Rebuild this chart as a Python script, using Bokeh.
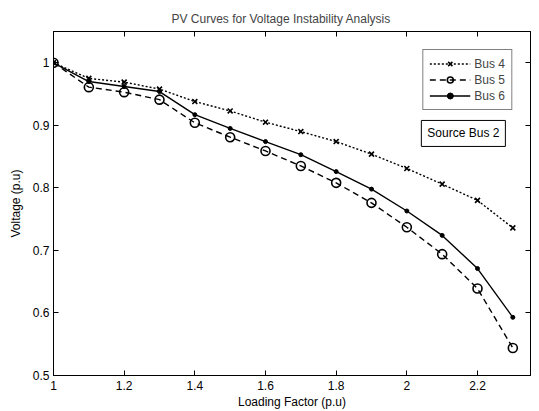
from bokeh.plotting import figure
from bokeh.models import (Range1d, LinearAxis, FixedTicker, CustomJSTickFormatter,
                          Legend, LegendItem, Label)
from bokeh.embed import file_html
from bokeh.resources import INLINE

# ---- data ----
loading = [1.0, 1.1, 1.2, 1.3, 1.4, 1.5, 1.6, 1.7, 1.8, 1.9, 2.0, 2.1, 2.2, 2.3]
bus4 = [1.000, 0.975, 0.969, 0.958, 0.938, 0.923, 0.905, 0.890, 0.874, 0.854, 0.831, 0.806, 0.780, 0.736]
bus5 = [1.000, 0.961, 0.953, 0.941, 0.904, 0.881, 0.859, 0.835, 0.808, 0.776, 0.737, 0.694, 0.639, 0.544]
bus6 = [1.000, 0.970, 0.962, 0.954, 0.917, 0.895, 0.874, 0.853, 0.826, 0.798, 0.763, 0.724, 0.671, 0.593]
series_names = ["Bus 4", "Bus 5", "Bus 6"]
x_ticks = [1.0, 1.2, 1.4, 1.6, 1.8, 2.0, 2.2]
y_ticks = [0.5, 0.6, 0.7, 0.8, 0.9, 1.0]
title_text = "PV Curves for Voltage Instability Analysis"
x_label = "Loading Factor (p.u)"
y_label = "Voltage (p.u)"
note_text = "Source Bus 2"

FONT = "Liberation Sans"
FS = "12px"

p = figure(width=539, height=411, output_backend="svg", toolbar_location=None,
           x_range=Range1d(1.0, 2.35), y_range=Range1d(0.5, 1.05),
           min_border_left=53, min_border_right=9, min_border_top=31, min_border_bottom=36)
p.xgrid.visible = False
p.ygrid.visible = False
p.outline_line_color = "black"
p.outline_line_width = 1
p.background_fill_color = "white"
p.border_fill_color = "white"

p.title.text = title_text
p.title.text_font = FONT
p.title.text_font_size = FS
p.title.text_font_style = "normal"
p.title.align = "left"
p.title.offset = 118
p.title.standoff = 11

fmt = CustomJSTickFormatter(code="return String(Math.round(tick*10)/10);")
blank = CustomJSTickFormatter(code="return '';")

def style_axis(ax, ticks, show_labels):
    ax.ticker = FixedTicker(ticks=ticks)
    ax.formatter = fmt if show_labels else blank
    ax.major_tick_in = 5
    ax.major_tick_out = 0
    ax.minor_tick_in = 0
    ax.minor_tick_out = 0
    ax.axis_line_color = "black"
    ax.major_tick_line_color = "black"
    ax.major_label_text_font = FONT
    ax.major_label_text_font_size = FS
    ax.major_label_text_color = "black"
    ax.axis_label_text_font = FONT
    ax.axis_label_text_font_size = FS
    ax.axis_label_text_font_style = "normal"
    ax.axis_label_text_color = "black"

style_axis(p.xaxis[0], x_ticks, True)
style_axis(p.yaxis[0], y_ticks, True)
p.xaxis[0].axis_label = x_label
p.yaxis[0].axis_label = y_label
p.xaxis[0].major_label_standoff = 5
p.xaxis[0].axis_label_standoff = 2
p.yaxis[0].major_label_standoff = 4
p.yaxis[0].axis_label_standoff = 7

top_ax = LinearAxis()
style_axis(top_ax, x_ticks, False)
top_ax.major_label_standoff = 0
right_ax = LinearAxis()
style_axis(right_ax, y_ticks, False)
right_ax.major_label_standoff = 0
p.add_layout(top_ax, "above")
p.add_layout(right_ax, "right")

LW = 1.4
l4 = p.line(loading, bus4, line_color="black", line_width=LW, line_dash="2 2")
m4 = p.scatter(loading, bus4, marker="x", size=7, line_color="black", line_width=1.6)
l5 = p.line(loading, bus5, line_color="black", line_width=LW, line_dash="6 4")
m5 = p.scatter(loading, bus5, marker="circle", size=9, line_color="black", line_width=1.6,
               fill_color=None)
l6 = p.line(loading, bus6, line_color="black", line_width=LW)
m6 = p.scatter(loading, bus6, marker="circle", size=4, line_color="black", fill_color="black")

legend = Legend(items=[LegendItem(label=series_names[0], renderers=[l4, m4]),
                       LegendItem(label=series_names[1], renderers=[l5, m5]),
                       LegendItem(label=series_names[2], renderers=[l6, m6])],
                location="top_right", margin=18, padding=6, spacing=1,
                glyph_width=41, glyph_height=15, label_height=15, label_standoff=4,
                label_text_font=FONT, label_text_font_size=FS,
                border_line_color="black", border_line_width=1,
                background_fill_color="white", background_fill_alpha=1)
p.add_layout(legend)

note = Label(x=2.16, y=0.887, text=note_text, text_align="center", text_baseline="middle",
             text_font=FONT, text_font_size=FS, text_color="black",
             border_line_color="black", border_line_width=1,
             background_fill_color="white", padding=6)
p.add_layout(note)

open("out.html", "w").write(file_html(p, INLINE))
